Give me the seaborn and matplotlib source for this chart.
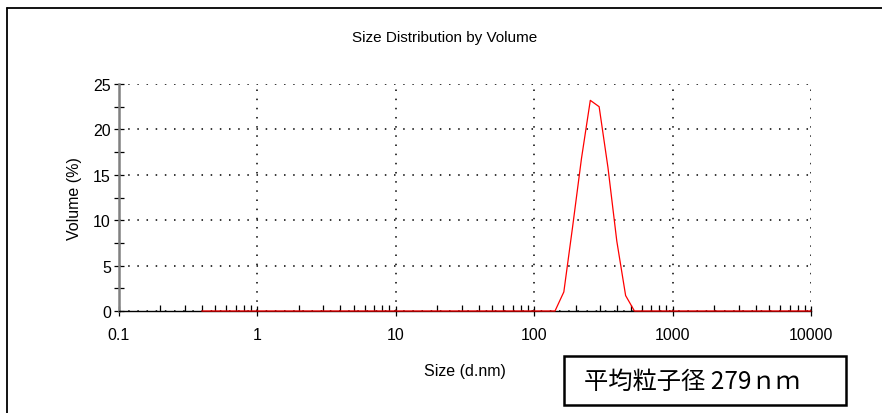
import numpy as np
import matplotlib.pyplot as plt
import seaborn as sns
from matplotlib.lines import Line2D
from matplotlib.patches import Rectangle
from matplotlib.ticker import FixedLocator, LogLocator, NullFormatter

# size classes (d.nm)
sizes = [0.4, 0.4632, 0.5365, 0.6213, 0.7195, 0.8332, 0.9649, 1.117, 1.294, 1.499,
         1.736, 2.01, 2.328, 2.696, 3.122, 3.615, 4.187, 4.849, 5.615, 6.503,
         7.531, 8.721, 10.1, 11.7, 13.54, 15.69, 18.17, 21.04, 24.36, 28.21,
         32.67, 37.84, 43.82, 50.75, 58.77, 68.06, 78.82, 91.28, 105.7, 122.4,
         141.8, 164.2, 190.1, 220.2, 255.0, 295.3, 342.0, 396.1, 458.7, 531.2,
         615.1, 712.4, 825.0, 955.4, 1106, 1281, 1484, 1718, 1990, 2305,
         2669, 3091, 3580, 4145, 4801, 5560, 6439, 7456, 8635, 10000]
# volume (%)
volume = [0, 0, 0, 0, 0, 0, 0, 0, 0, 0,
          0, 0, 0, 0, 0, 0, 0, 0, 0, 0,
          0, 0, 0, 0, 0, 0, 0, 0, 0, 0,
          0, 0, 0, 0, 0, 0, 0, 0, 0, 0,
          0, 2.1, 9.3, 16.8, 23.2, 22.5, 15.8, 7.7, 1.7, 0,
          0, 0, 0, 0, 0, 0, 0, 0, 0, 0,
          0, 0, 0, 0, 0, 0, 0, 0, 0, 0]

x_ticks = [0.1, 1, 10, 100, 1000, 10000]
x_tick_labels = ["0.1", "1", "10", "100", "1000", "10000"]
y_ticks = [0, 5, 10, 15, 20, 25]

sns.set_style("white")
plt.rcParams['font.family'] = ['Liberation Sans', 'DejaVu Sans']
plt.rcParams['text.color'] = 'black'
plt.rcParams['axes.labelcolor'] = 'black'

fig = plt.figure(figsize=(8.82, 4.14), dpi=100)
ax = fig.add_axes([118.5 / 882, 1 - 312 / 414, 692.5 / 882, 227 / 414])

sns.lineplot(x=sizes, y=volume, ax=ax, color="#ff0000", linewidth=0.9,
             zorder=5, clip_on=False)

ax.set_xscale("log")
ax.set_xlim(0.1, 10000)
ax.set_ylim(0, 25)

ax.xaxis.set_major_locator(FixedLocator(x_ticks))
ax.set_xticklabels(x_tick_labels)
ax.xaxis.set_minor_locator(LogLocator(base=10, subs=np.arange(2, 10)))
ax.xaxis.set_minor_formatter(NullFormatter())
ax.set_yticks(y_ticks)
ax.set_yticks([2.5, 7.5, 12.5, 17.5, 22.5], minor=True)

ax.tick_params(axis="x", which="major", bottom=True, direction="inout", length=7,
               width=0.9, labelsize=11.5, pad=8, color="black", labelcolor="black")
ax.tick_params(axis="x", which="minor", bottom=True, direction="in", length=4,
               width=0.9, color="black")
ax.tick_params(axis="y", which="both", left=True, direction="inout", length=7,
               width=0.9, labelsize=11.5, pad=2, color="black", labelcolor="black")

ax.grid(True, which="major", color="black", linestyle=(0, (1, 5)), linewidth=1.1)
ax.set_axisbelow(True)

for s in ["top", "right"]:
    ax.spines[s].set_visible(False)
ax.spines["left"].set_color("#808080")
ax.spines["left"].set_linewidth(1.8)
ax.spines["bottom"].set_color("black")
ax.spines["bottom"].set_linewidth(1.0)

ax.set_xlabel("Size (d.nm)", fontsize=11.5, labelpad=15)
ax.set_ylabel("Volume (%)", fontsize=11.5, labelpad=8)
fig.text(445 / 882, 1 - 38 / 414, "Size Distribution by Volume", fontsize=11,
         ha="center", va="center")

# outer frame (top and left edges)
fig.add_artist(Line2D([7 / 882, 1.0], [1 - 9 / 414, 1 - 9 / 414],
                      color="black", linewidth=1.3, transform=fig.transFigure))
fig.add_artist(Line2D([7 / 882, 7 / 882], [0.0, 1 - 9 / 414],
                      color="black", linewidth=1.3, transform=fig.transFigure))

# mean size box
fig.add_artist(Rectangle((564 / 882, 1 - 406 / 414), 282 / 882, 49 / 414,
                         fill=False, edgecolor="black", linewidth=1.8,
                         transform=fig.transFigure))
fig.text(584 / 882, 1 - 382 / 414, "平均粒子径 279ｎｍ", fontsize=17.5,
         ha="left", va="center", family=["Noto Sans CJK JP", "DejaVu Sans"])

fig.savefig("out.png", dpi=100)
